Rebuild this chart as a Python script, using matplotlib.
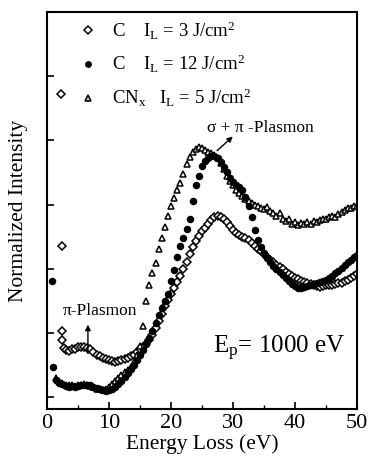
import matplotlib
matplotlib.use("Agg")
import matplotlib.pyplot as plt
from matplotlib.lines import Line2D
import numpy as np

plt.rcParams["font.family"] = ["Liberation Serif", "DejaVu Serif"]
plt.rcParams["mathtext.fontset"] = "custom"
plt.rcParams["mathtext.rm"] = "Liberation Serif"
plt.rcParams["mathtext.it"] = "Liberation Serif:italic"

# C, I_L = 3 J/cm2 (open diamonds)
c3_x = [2.2, 2.4, 2.4, 2.5, 2.7,
        3.0, 3.5, 4.0, 4.5, 5.0, 5.5, 6.0, 6.5, 7.0, 7.5, 8.0, 8.5, 9.0, 9.5, 10.0,
        10.5, 11.0, 11.5, 12.0, 12.5, 13.0, 13.5, 14.0, 14.5, 15.0, 15.5, 16.0, 16.5,
        17.0, 17.5, 18.0, 18.5, 19.0, 19.5, 20.0, 20.5, 21.0, 21.5, 22.0, 22.5, 23.0,
        23.5, 24.0, 24.5, 25.0, 25.5, 26.0, 26.5, 27.0, 27.5, 28.0, 28.5, 29.0, 29.5,
        30.0, 30.5, 31.0, 31.5, 32.0, 32.5, 33.0, 33.5, 34.0, 34.5, 35.0, 35.5, 36.0,
        36.5, 37.0, 37.5, 38.0, 38.5, 39.0, 39.5, 40.0, 40.5, 41.0, 41.5, 42.0, 42.5,
        43.0, 43.5, 44.0, 44.5, 45.0, 45.5, 46.0, 46.5, 47.0, 47.5, 48.0, 48.5, 49.0,
        49.5, 50.0]
c3_y = [4.72, 2.36, 1.03, 0.88, 0.76,
        0.73, 0.72, 0.74, 0.75, 0.77, 0.77, 0.78, 0.76, 0.74, 0.70, 0.66, 0.63, 0.61, 0.59, 0.57,
        0.56, 0.55, 0.56, 0.57, 0.59, 0.61, 0.63, 0.66, 0.70, 0.74, 0.78, 0.82, 0.89,
        0.97, 1.07, 1.18, 1.30, 1.41, 1.51, 1.60, 1.70, 1.79, 1.88, 1.99, 2.11, 2.23,
        2.34, 2.43, 2.51, 2.58, 2.63, 2.70, 2.76, 2.80, 2.82, 2.81, 2.78, 2.72, 2.66,
        2.61, 2.56, 2.53, 2.50, 2.47, 2.44, 2.40, 2.35, 2.30, 2.27, 2.23, 2.18, 2.13,
        2.10, 2.06, 2.03, 1.99, 1.95, 1.92, 1.89, 1.86, 1.84, 1.81, 1.79, 1.77, 1.76,
        1.74, 1.73, 1.72, 1.73, 1.74, 1.74, 1.75, 1.76, 1.77, 1.78, 1.80, 1.82, 1.85,
        1.88, 1.91]

# C, I_L = 12 J/cm2 (filled circles)
c12_x = [0.8, 1.0,
         1.5, 2.0, 2.5, 3.0, 3.5, 4.0, 4.5, 5.0, 5.5, 6.0, 6.5, 7.0, 7.5, 8.0, 8.5, 9.0,
         9.5, 10.0, 10.5, 11.0, 11.5, 12.0, 12.5, 13.0, 13.5, 14.0, 14.5, 15.0, 15.5,
         16.0, 16.5, 17.0, 17.5, 18.0, 18.5, 19.0, 19.5, 20.0, 20.5, 21.0, 21.5, 22.0,
         22.5, 23.0, 23.5, 24.0, 24.5, 25.0, 25.5, 26.0, 26.5, 27.0, 27.5, 28.0, 28.5,
         29.0, 29.5, 30.0, 30.5, 31.0, 31.5, 32.0, 32.5, 33.0, 33.5, 34.0, 34.5, 35.0,
         35.5, 36.0, 36.5, 37.0, 37.5, 38.0, 38.5, 39.0, 39.5, 40.0, 40.5, 41.0, 41.5,
         42.0, 42.5, 43.0, 43.5, 44.0, 44.5, 45.0, 45.5, 46.0, 46.5, 47.0, 47.5, 48.0,
         48.5, 49.0, 49.5, 50.0]
c12_y = [1.81, 0.47,
         0.27, 0.22, 0.20, 0.17, 0.16, 0.17, 0.16, 0.17, 0.18, 0.19, 0.19, 0.18, 0.16, 0.14, 0.12, 0.10,
         0.09, 0.10, 0.12, 0.16, 0.20, 0.25, 0.31, 0.37, 0.43, 0.50, 0.57, 0.65, 0.73,
         0.82, 0.92, 1.03, 1.15, 1.27, 1.39, 1.50, 1.60, 1.80, 1.98, 2.18, 2.35, 2.48,
         2.62, 2.77, 3.05, 3.30, 3.45, 3.60, 3.68, 3.73, 3.76, 3.75, 3.72, 3.66, 3.58,
         3.50, 3.42, 3.35, 3.30, 3.27, 3.22, 3.12, 2.98, 2.80, 2.60, 2.45, 2.33, 2.25,
         2.17, 2.10, 2.04, 1.99, 1.95, 1.90, 1.85, 1.80, 1.76, 1.73, 1.70, 1.70, 1.72,
         1.73, 1.74, 1.76, 1.77, 1.79, 1.81, 1.83, 1.86, 1.89, 1.93, 1.97, 2.01, 2.05,
         2.10, 2.14, 2.18, 2.21]

# CNx, I_L = 5 J/cm2 (open triangles)
cnx_x = [1.5, 2.0, 2.5, 3.0, 3.5, 4.0, 4.5, 5.0, 5.5, 6.0, 6.5, 7.0, 7.5, 8.0, 8.5,
         9.0, 9.5, 10.0, 10.5, 11.0, 11.5, 12.0, 12.5, 13.0, 13.5, 14.0, 14.5, 15.0,
         15.5, 16.0, 16.5, 17.0, 17.5, 18.0, 18.5, 19.0, 19.5, 20.0, 20.5, 21.0, 21.5,
         22.0, 22.5, 23.0, 23.5, 24.0, 24.5, 25.0, 25.5, 26.0, 26.5, 27.0, 27.5, 28.0,
         28.5, 29.0, 29.5, 30.0, 30.5, 31.0, 31.5, 32.0, 32.5, 33.0, 33.5, 34.0, 34.5,
         35.0, 35.5, 36.0, 36.5, 37.0, 37.5, 38.0, 38.5, 39.0, 39.5, 40.0, 40.5, 41.0,
         41.5, 42.0, 42.5, 43.0, 43.5, 44.0, 44.5, 45.0, 45.5, 46.0, 46.5, 47.0, 47.5,
         48.0, 48.5, 49.0, 49.5, 50.0]
cnx_y = [0.30, 0.24, 0.21, 0.19, 0.18, 0.18, 0.17, 0.18, 0.19, 0.20, 0.19, 0.17, 0.15, 0.13, 0.12,
         0.11, 0.12, 0.15, 0.20, 0.25, 0.30, 0.34, 0.38, 0.42, 0.47, 0.55, 0.66, 0.80,
         1.10, 1.50, 1.75, 1.93, 2.08, 2.30, 2.48, 2.65, 2.82, 2.97, 3.10, 3.22, 3.34,
         3.48, 3.63, 3.74, 3.82, 3.87, 3.89, 3.88, 3.85, 3.82, 3.80, 3.78, 3.73, 3.65,
         3.55, 3.45, 3.37, 3.30, 3.23, 3.18, 3.13, 3.09, 3.05, 3.02, 2.99, 2.97, 2.95,
         2.93, 2.96, 2.90, 2.86, 2.82, 2.86, 2.78, 2.75, 2.78, 2.70, 2.72, 2.68, 2.71,
         2.69, 2.72, 2.70, 2.74, 2.72, 2.76, 2.78, 2.77, 2.80, 2.82, 2.81, 2.85, 2.88,
         2.92, 2.95, 2.94, 2.98, 2.97]

fig = plt.figure(figsize=(3.7, 4.68), dpi=100)
ax = fig.add_axes([0.127, 0.126, 0.838, 0.848])

ms = dict(linestyle="none", markeredgecolor="black", markeredgewidth=1.1)
ax.plot(c3_x, c3_y, marker="D", markersize=4.0, markerfacecolor="white", **ms)
ax.plot(cnx_x, cnx_y, marker="^", markersize=5.0, markerfacecolor="white", **ms)
ax.plot(c12_x, c12_y, marker="o", markersize=4.3, markerfacecolor="black", **ms)

handles = [
    Line2D([], [], marker="D", markersize=3.6, markerfacecolor="white", **ms),
    Line2D([], [], marker="o", markersize=3.8, markerfacecolor="black", **ms),
    Line2D([], [], marker="^", markersize=4.6, markerfacecolor="#c0c0c0", **ms),
]
labels = [
    "C    I$_\\mathrm{L}$ = 3 J/cm$^\\mathrm{2}$",
    "C    I$_\\mathrm{L}$ = 12 J/cm$^\\mathrm{2}$",
    "CN$_\\mathrm{x}$   I$_\\mathrm{L}$ = 5 J/cm$^\\mathrm{2}$",
]
ax.legend(handles, labels, loc="upper left", bbox_to_anchor=(0.065, 1.01), frameon=False,
          fontsize=13.5, handlelength=1.0, handletextpad=0.8, labelspacing=0.62,
          borderaxespad=0.2)

ax.annotate("", xy=(30.3, 4.09), xytext=(27.1, 3.81),
            arrowprops=dict(arrowstyle="-|>", color="black", lw=1.0, mutation_scale=8))
ax.text(34.4, 4.2, "σ + π -Plasmon", fontsize=12.5, ha="center", va="center")

ax.annotate("", xy=(6.6, 1.17), xytext=(6.6, 0.63),
            arrowprops=dict(arrowstyle="-|>", color="black", lw=1.0, mutation_scale=8))
ax.text(8.6, 1.34, "π-Plasmon", fontsize=12.5, ha="center", va="center")

ax.text(37.4, 0.75, "E$_\\mathrm{p}$= 1000 eV", fontsize=18, ha="center", va="center")

ax.set_xlim(0, 50)
ax.set_ylim(-0.19, 6.0)
ax.set_xticks([0, 10, 20, 30, 40, 50])
ax.set_xticks(np.arange(5, 50, 10), minor=True)
ax.set_yticks([0, 1, 2, 3, 4, 5])
ax.set_yticklabels([])
ax.tick_params(direction="in", length=5, width=1.2, labelsize=16, top=False, right=False)
ax.tick_params(which="minor", direction="in", length=3, width=1.0)
for s in ax.spines.values():
    s.set_linewidth(1.5)

ax.set_xlabel("Energy Loss (eV)", fontsize=15.5, labelpad=1)
ax.set_ylabel("Normalized Intensity", fontsize=15.5, labelpad=10)

fig.savefig("out.png", dpi=100)
